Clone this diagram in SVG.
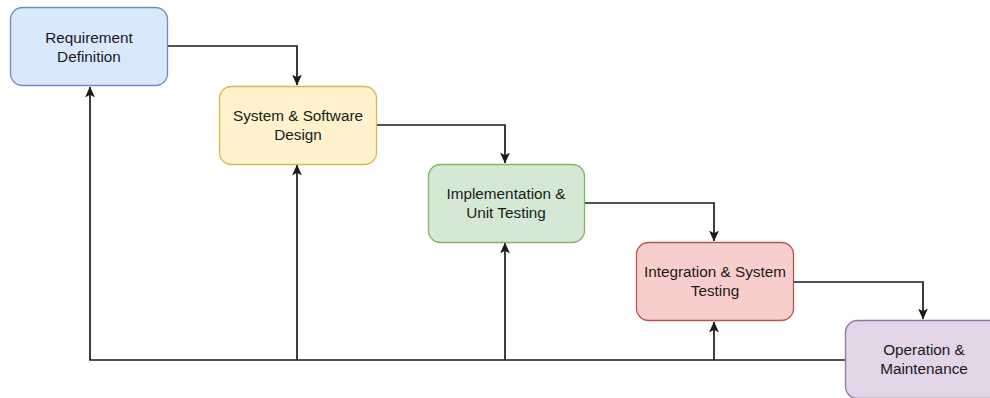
<svg xmlns="http://www.w3.org/2000/svg" width="990" height="398" viewBox="0 0 990 398">
<defs>
<style>
.box{stroke-width:1.3}
.lbl{font-family:"Liberation Sans",Arial,sans-serif;font-size:15.3px;fill:#1a1a1a;text-anchor:middle}
.edge{fill:none;stroke:#1a1a1a;stroke-width:1.7}
</style>
<marker id="arr" viewBox="0 0 10 10" refX="9.5" refY="5" markerWidth="11" markerHeight="11" markerUnits="userSpaceOnUse" orient="auto">
<path d="M0,0.5 L10,5 L0,9.5 L2.5,5 Z" fill="#1a1a1a"/>
</marker>
</defs>
<rect width="990" height="398" fill="#ffffff"/>
<g id="connectors">
<path class="edge" d="M167,46 H297 V85" marker-end="url(#arr)"/>
<path class="edge" d="M376,125 H505 V163" marker-end="url(#arr)"/>
<path class="edge" d="M584,203 H714 V241" marker-end="url(#arr)"/>
<path class="edge" d="M793,282 H923 V319" marker-end="url(#arr)"/>
<path class="edge" d="M845,360 H90 V87" marker-end="url(#arr)"/>
<path class="edge" d="M297,360 V165" marker-end="url(#arr)"/>
<path class="edge" d="M505,360 V243" marker-end="url(#arr)"/>
<path class="edge" d="M714,360 V322" marker-end="url(#arr)"/>
</g>
<g id="requirement">
<rect class="box" x="10.5" y="7.5" width="157" height="78" rx="12" fill="#dae8fc" stroke="#6c8ebf"/>
<text class="lbl" x="89" y="43">Requirement</text>
<text class="lbl" x="89" y="62">Definition</text>
</g>
<g id="design">
<rect class="box" x="219.5" y="86.5" width="157" height="78" rx="12" fill="#fff2cc" stroke="#d6b656"/>
<text class="lbl" x="298" y="121">System &amp; Software</text>
<text class="lbl" x="298" y="140">Design</text>
</g>
<g id="implementation">
<rect class="box" x="428.5" y="164.5" width="156" height="78" rx="12" fill="#d5e8d4" stroke="#82b366"/>
<text class="lbl" x="506" y="199">Implementation &amp;</text>
<text class="lbl" x="506" y="218">Unit Testing</text>
</g>
<g id="integration">
<rect class="box" x="636.5" y="242.5" width="157" height="78" rx="12" fill="#f8cecc" stroke="#b85450"/>
<text class="lbl" x="715" y="277">Integration &amp; System</text>
<text class="lbl" x="715" y="296">Testing</text>
</g>
<g id="operation">
<rect class="box" x="845.5" y="320.5" width="157" height="78" rx="12" fill="#e1d5e7" stroke="#9673a6"/>
<text class="lbl" x="924" y="355">Operation &amp;</text>
<text class="lbl" x="924" y="374">Maintenance</text>
</g>
</svg>
